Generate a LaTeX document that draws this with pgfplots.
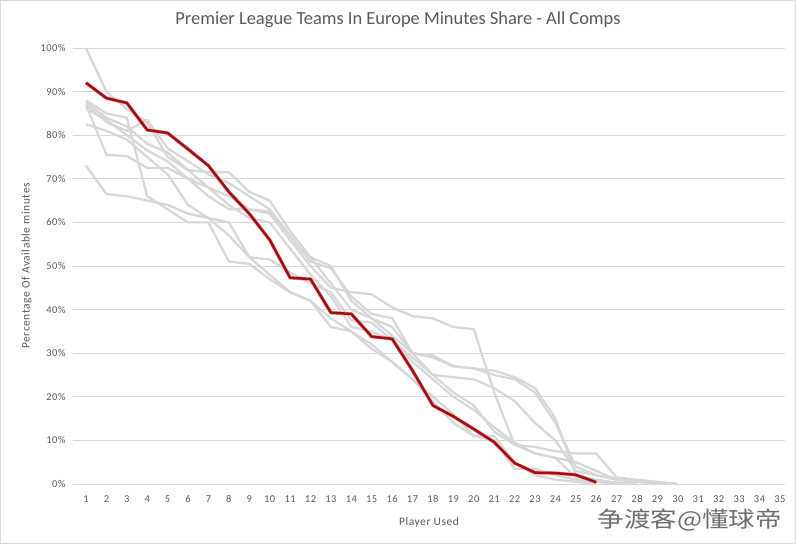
\documentclass[border=0pt]{standalone}
\usepackage{pgfplots}
\pgfplotsset{compat=1.18}
\usepackage{fontspec}
\setmainfont{Carlito}
\newfontfamily\labfont[LetterSpace=5]{Carlito}
\newfontfamily\cjk{Noto Sans CJK SC}
\definecolor{txt}{RGB}{89,89,89}
\definecolor{gridc}{RGB}{217,217,217}
\definecolor{linec}{RGB}{215,215,215}
\definecolor{redc}{RGB}{160,14,20}
\definecolor{redglow}{RGB}{240,150,150}
\begin{document}
\begin{tikzpicture}[x=1bp,y=1bp]
\path[use as bounding box,fill=white] (0,0) rectangle (796,544);
\draw[gridc, line width=0.8bp] (0.5,0.5) rectangle (795.5,543.5);
\begin{axis}[
  at={(73bp,60bp)}, anchor=south west,
  scale only axis, width=712bp, height=436bp,
  xmin=0.363, xmax=35.25, ymin=0, ymax=100,
  xtick={1,...,35}, ytick={0,10,...,100},
  yticklabel={\pgfmathprintnumber{\tick}\%},
  /pgf/number format/assume math mode=true,
  ymajorgrids, grid style={gridc, line width=0.8pt},
  axis x line*=bottom, axis y line*=left,
  x axis line style={gridc, line width=0.8pt, -},
  y axis line style={draw=none},
  major tick length=0pt,
  tick label style={font=\labfont\fontsize{10.5}{12}\selectfont, text=txt},
  xticklabel style={yshift=-8bp},
  yticklabel style={xshift=-4bp},
  xlabel={Player Used}, ylabel={Percentage Of Available minutes},
  label style={font=\labfont\fontsize{11.5}{13}\selectfont, text=txt},
  xlabel style={yshift=-8bp},
  ylabel style={yshift=2bp},
  every axis plot/.append style={line join=round},
  clip=false,
]
\pgfplotsset{gl/.style={linec, line width=2.2bp}}
% gray series
\addplot[gl] coordinates {(1,100)(2,90)(3,86)(4,83)(5,75)(6,72)(7,68)(8,66)(9,63)(10,62)(11,56)(12,52)(13,46)(14,40)(15,38)(16,36)(17,30)(18,25)(19,24.5)(20,24)(21,22)(22,19)(23,14)(24,10)(25,3)(26,2)(27,1)(28,0.5)(29,0.3)(30,0)};
\addplot[gl] coordinates {(1,87.5)(2,84)(3,82)(4,78)(5,76)(6,72)(7,71.5)(8,71.5)(9,67)(10,65)(11,58)(12,52)(13,50)(14,42)(15,38)(16,34)(17,30)(18,29)(19,27)(20,26.5)(21,25)(22,24)(23,21)(24,14)(25,4)(26,2)(27,1)(28,0.8)(29,0.4)(30,0)};
\addplot[gl] coordinates {(1,87)(2,75.5)(3,75.2)(4,72.5)(5,72.5)(6,70)(7,66)(8,63)(9,63)(10,62.5)(11,56)(12,50)(13,45)(14,44)(15,43.5)(16,40.5)(17,38.5)(18,38)(19,36)(20,35.5)(21,21)(22,9)(23,8.5)(24,7.5)(25,7)(26,7)(27,1.5)(28,1)(29,0.5)(30,0)};
\addplot[gl] coordinates {(1,86)(2,83.5)(3,80)(4,76.5)(5,74)(6,70)(7,68)(8,64)(9,61)(10,60)(11,54)(12,48)(13,43)(14,36)(15,35)(16,33)(17,28)(18,24)(19,20)(20,17)(21,13)(22,9.5)(23,7)(24,6)(25,5)(26,3)(27,1)(28,0.5)(29,0)};
\addplot[gl] coordinates {(1,82.5)(2,81)(3,79)(4,75)(5,71)(6,64)(7,61)(8,57)(9,52)(10,51.5)(11,48.5)(12,46)(13,44)(14,37.5)(15,37)(16,33)(17,29)(18,25)(19,21)(20,18)(21,12)(22,9)(23,7)(24,6)(25,1.5)(26,0.8)(27,0.3)(28,0)};
\addplot[gl] coordinates {(1,73)(2,66.5)(3,66)(4,65)(5,64)(6,62)(7,61)(8,60)(9,52)(10,48)(11,44)(12,42)(13,38)(14,35)(15,31)(16,28)(17,24)(18,19)(19,14)(20,11)(21,10)(22,3.5)(23,3.5)(24,2)(25,1)(26,0.5)(27,0)};
\addplot[gl] coordinates {(1,88)(2,85)(3,84)(4,66)(5,63)(6,60)(7,60)(8,51)(9,50.5)(10,47)(11,44)(12,42)(13,36)(14,35)(15,32)(16,28)(17,24)(18,20)(19,16)(20,11)(21,11)(22,5)(23,2)(24,1)(25,0.5)(26,0)};
\addplot[gl] coordinates {(1,87)(2,83)(3,81)(4,83.5)(5,77)(6,74)(7,71)(8,69)(9,66)(10,63)(11,57)(12,51)(13,49.5)(14,43)(15,39)(16,38)(17,30)(18,29.5)(19,27)(20,26.5)(21,26)(22,24.5)(23,22)(24,15)(25,2)(26,1)(27,0.3)(28,0)};
% highlighted series
\addplot[redglow, line width=3.6bp] coordinates {(1,92)(2,88.5)(3,87.4)(4,81.2)(5,80.5)(6,76.8)(7,73)(8,67)(9,62)(10,56)(11,47.3)(12,47)(13,39.3)(14,39)(15,33.8)(16,33.3)(17,26)(18,18)(19,15.5)(20,12.6)(21,9.6)(22,4.8)(23,2.6)(24,2.5)(25,2.1)(26,0.4)};
\addplot[redc, line width=2.5bp] coordinates {(1,92)(2,88.5)(3,87.4)(4,81.2)(5,80.5)(6,76.8)(7,73)(8,67)(9,62)(10,56)(11,47.3)(12,47)(13,39.3)(14,39)(15,33.8)(16,33.3)(17,26)(18,18)(19,15.5)(20,12.6)(21,9.6)(22,4.8)(23,2.6)(24,2.5)(25,2.1)(26,0.4)};
\end{axis}
\node[text=txt, font=\fontsize{18.5}{21}\selectfont] at (398,524) {Premier League Teams In Europe Minutes Share - All Comps};
\node[anchor=east, xscale=1.21, transform shape, text={rgb,255:red,110;green,110;blue,110}, font=\cjk\fontsize{22}{24}\selectfont] at (786,24) {争渡客@懂球帝};
\end{tikzpicture}
\end{document}
